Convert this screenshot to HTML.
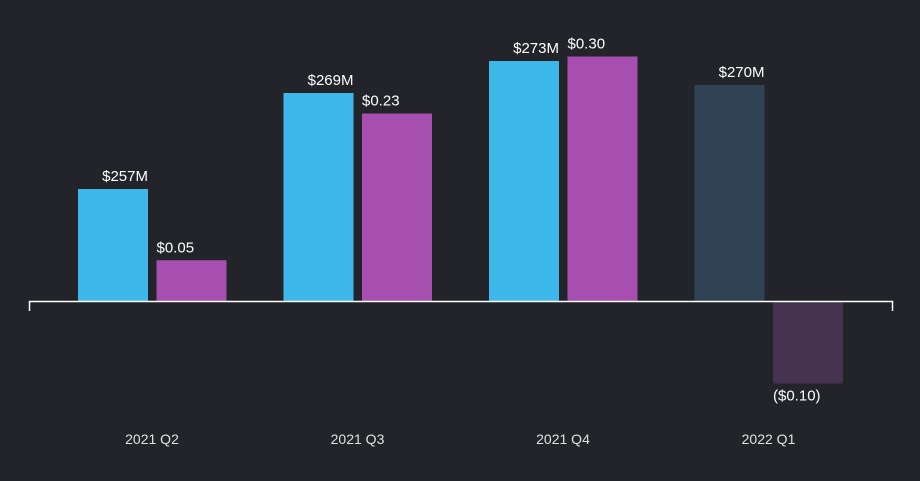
<!DOCTYPE html>
<html><head><meta charset="utf-8"><style>
html,body{margin:0;padding:0;background:#232429;}
svg{display:block;font-family:"Liberation Sans",sans-serif;}
</style></head><body>
<svg id="chart" width="920" height="481" viewBox="0 0 920 481">
<rect x="0" y="0" width="920" height="481" fill="#232429"/>
<g id="marks"></g>
<path d="M29.5 311V301.5H892.5V311" stroke="#fff" stroke-width="1.5" fill="none"/>
</svg>
<script>
const categories = ["2021 Q2","2021 Q3","2021 Q4","2022 Q1"];
const revenue = [257,269,273,270];
const revenueLabels = ["$257M","$269M","$273M","$270M"];
const eps = [0.05,0.23,0.30,-0.10];
const epsLabels = ["$0.05","$0.23","$0.30","($0.10)"];
const forecast = [false,false,false,true];

const baseY = 301, barW = 70;
const groupX = i => 78 + i*205.5;
const revH = v => (v - 243) * 8;
const epsH = v => v * 815;
const ns = "http://www.w3.org/2000/svg";
const g = document.getElementById("marks");
function mk(tag, attrs){const e=document.createElementNS(ns,tag);for(const k in attrs)e.setAttribute(k,attrs[k]);g.appendChild(e);return e;}

categories.forEach((c,i)=>{
  const x = groupX(i);
  const rh = revH(revenue[i]);
  const r = mk("rect",{x:x,y:baseY-rh,width:barW,height:rh,fill:forecast[i]?"#2f4354":"#3eb8ea"});
  
  
  const rt = mk("text",{x:x+barW,y:baseY-rh-8,"text-anchor":"end","font-size":"15",fill:"#fff"});
  rt.textContent = revenueLabels[i];
  
  

  const ex = x + 78.5;
  const eh = epsH(eps[i]);
  const ey = eh >= 0 ? baseY - eh : baseY + 1;
  const e = mk("rect",{x:ex,y:ey,width:barW,height:Math.abs(eh),fill:forecast[i]?"#44324f":"#a64fb1"});
  
  
  const et = mk("text",{x:ex,y:eh>=0?baseY-eh-8:baseY-eh+18,"text-anchor":"start","font-size":"15",fill:"#fff"});
  et.textContent = epsLabels[i];
  
  

  const ct = mk("text",{x:x+74,y:444,"text-anchor":"middle","font-size":"14",fill:"#e0e0e0"});
  ct.textContent = c;
  
  
});
</script>
</body></html>
